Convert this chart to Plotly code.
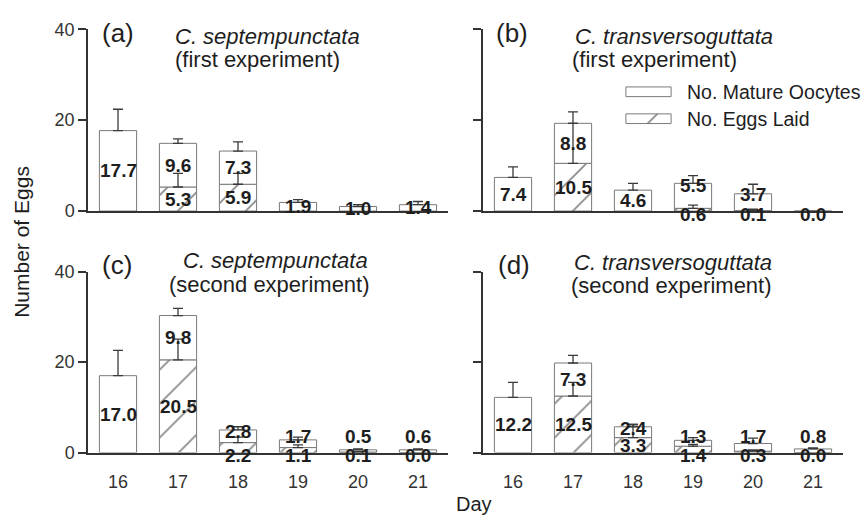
import plotly.graph_objects as go

W, H = 863, 527

days = [16, 17, 18, 19, 20, 21]
day_labels = ["16", "17", "18", "19", "20", "21"]

# (a) C. septempunctata, first experiment
oocytes_a = [17.7, 9.6, 7.3, 1.9, 1.0, 1.4]
laid_a = [None, 5.3, 5.9, None, None, None]
err_total_a = [4.7, 1.0, 2.0, 0.6, 0.4, 0.7]
err_laid_a = [None, 3.0, 2.4, None, None, None]

# (b) C. transversoguttata, first experiment
oocytes_b = [7.4, 8.8, 4.6, 5.5, 3.7, 0.0]
laid_b = [None, 10.5, None, 0.6, 0.1, None]
err_total_b = [2.3, 2.5, 1.5, 1.7, 2.1, None]
err_laid_b = [None, 8.8, None, 0.7, 0.3, None]

# (c) C. septempunctata, second experiment
oocytes_c = [17.0, 9.8, 2.8, 1.7, 0.5, 0.6]
laid_c = [None, 20.5, 2.2, 1.1, 0.1, 0.0]
err_total_c = [5.6, 1.6, 0.7, 0.6, 0.2, 0.2]
err_laid_c = [None, 4.6, 1.2, 0.6, 0.1, None]

# (d) C. transversoguttata, second experiment
oocytes_d = [12.2, 7.3, 2.4, 1.3, 1.7, 0.8]
laid_d = [None, 12.5, 3.3, 1.4, 0.3, 0.0]
err_total_d = [3.3, 1.7, 0.5, 0.6, 1.2, 0.2]
err_laid_d = [None, 3.0, 2.9, 0.4, 0.3, None]

panel_letters = ["(a)", "(b)", "(c)", "(d)"]
species = ["C. septempunctata", "C. transversoguttata", "C. septempunctata", "C. transversoguttata"]
experiments = ["(first experiment)", "(first experiment)", "(second experiment)", "(second experiment)"]
legend_names = ["No. Mature Oocytes", "No. Eggs Laid"]

panels = [
    (oocytes_a, laid_a, err_total_a, err_laid_a),
    (oocytes_b, laid_b, err_total_b, err_laid_b),
    (oocytes_c, laid_c, err_total_c, err_laid_c),
    (oocytes_d, laid_d, err_total_d, err_laid_d),
]

FONT = "Liberation Sans, Arial, sans-serif"
TXT = "#1e1e1e"
AX = "#333333"
BAR_LINE = "#7a7a7a"
ERR = "#3a3a3a"
PATTERN = dict(shape="/", fgcolor="#111111", bgcolor="white", size=24, solidity=0.07)

def px(x):
    return x / W

def py(y):
    return 1 - y / H

# pixel boxes of the four plot areas: (left, right, top, bottom)
boxes = [(88, 448, 20, 209), (483, 843, 20, 209), (88, 448, 272, 460), (483, 843, 272, 460)]

fig = go.Figure()
ann = []

for i, (oo, laid, et, el) in enumerate(panels):
    n = i + 1
    xa = "x" if n == 1 else f"x{n}"
    ya = "y" if n == 1 else f"y{n}"
    base = [v if v is not None else 0 for v in laid]
    total = [o + b for o, b in zip(oo, base)]

    fig.add_trace(go.Bar(
        x=days, y=laid, width=0.62, xaxis=xa, yaxis=ya,
        marker=dict(color="white", pattern=PATTERN, line=dict(color=BAR_LINE, width=1)),
        showlegend=False, hoverinfo="skip"))
    fig.add_trace(go.Bar(
        x=days, y=oo, base=base, width=0.62, xaxis=xa, yaxis=ya,
        marker=dict(color="white", line=dict(color=BAR_LINE, width=1)),
        showlegend=False, hoverinfo="skip"))

    # error bars (upper only)
    fig.add_trace(go.Scatter(
        x=days, y=total, mode="markers", xaxis=xa, yaxis=ya,
        marker=dict(size=1, color="rgba(0,0,0,0)"),
        error_y=dict(type="data", symmetric=False, array=[e if e is not None else 0 for e in et],
                     arrayminus=[0] * 6, color=ERR, thickness=1.3, width=5),
        showlegend=False, hoverinfo="skip", cliponaxis=False))
    idx = [k for k in range(6) if laid[k] is not None and el[k] is not None]
    fig.add_trace(go.Scatter(
        x=[days[k] for k in idx], y=[laid[k] for k in idx], mode="markers", xaxis=xa, yaxis=ya,
        marker=dict(size=1, color="rgba(0,0,0,0)"),
        error_y=dict(type="data", symmetric=False, array=[el[k] for k in idx],
                     arrayminus=[0] * len(idx), color=ERR, thickness=1.3, width=5),
        showlegend=False, hoverinfo="skip", cliponaxis=False))

    # value labels; small segments are anchored at the baseline and nudged below it
    for d, o, l, t in zip(days, oo, laid, total):
        items = []
        if l is None:
            if o > 0:
                items.append((o / 2, 0, o))
            else:
                items.append((0, -3, o))
        else:
            if l >= 3:
                items.append((l / 2, 0, l))
            else:
                items.append((0, -3, l))
            items.append((l + o / 2 if o >= 7 else max(t - 0.4, 3.6), 0, o))
        for yy, shift, v in items:
            ann.append(dict(x=d, y=yy, yshift=shift, xref=xa, yref=ya, text=f"<b>{v:.1f}</b>",
                            showarrow=False, xanchor="center", yanchor="middle",
                            font=dict(family=FONT, size=19, color=TXT)))

    l, r, t, b = boxes[i]
    bottom_row = i >= 2
    left_col = i % 2 == 0
    fig.update_layout(**{
        ("xaxis" if n == 1 else f"xaxis{n}"): dict(
            domain=[px(l), px(r)], range=[15.5, 21.5], anchor=ya,
            tickvals=days, ticktext=day_labels, showticklabels=bottom_row,
            ticks="", ticklabelstandoff=12,
            tickfont=dict(family=FONT, size=18, color=AX),
            showline=True, linecolor=AX, linewidth=1.5, showgrid=False, zeroline=False),
        ("yaxis" if n == 1 else f"yaxis{n}"): dict(
            domain=[py(b), py(t)], range=[0, 40], anchor=xa,
            tickvals=[0, 20, 40], showticklabels=left_col,
            ticks="outside", ticklen=8, tickwidth=1.5, tickcolor=AX,
            tickfont=dict(family=FONT, size=18, color=AX),
            showline=True, linecolor=AX, linewidth=1.5, showgrid=False, zeroline=False),
    })

# legend drawn as a tiny extra subplot so the hatch matches the bars
fig.add_trace(go.Bar(
    x=[1], y=[1], base=[0], orientation="h", width=0.36, xaxis="x5", yaxis="y5",
    marker=dict(color="white", line=dict(color=BAR_LINE, width=1)),
    showlegend=False, hoverinfo="skip"))
fig.add_trace(go.Bar(
    x=[1], y=[0], base=[0], orientation="h", width=0.36, xaxis="x5", yaxis="y5",
    marker=dict(color="white", pattern=PATTERN, line=dict(color=BAR_LINE, width=1)),
    showlegend=False, hoverinfo="skip"))
fig.update_layout(
    xaxis5=dict(domain=[px(625), px(672)], range=[-0.02, 1.02], visible=False, anchor="y5"),
    yaxis5=dict(domain=[py(127), py(71)], range=[-0.5, 1.5], visible=False, anchor="x5"),
)

letter_pos = [(118, 24), (512, 24), (117, 265), (514, 265)]
title_pos = [(267, 28), (674, 28), (275, 260), (673, 262)]
sub_pos = [(257, 51), (654, 51), (269, 285), (671, 286)]
paper_ann = []
for i in range(4):
    paper_ann.append(dict(x=px(letter_pos[i][0]), y=py(letter_pos[i][1]), text=panel_letters[i],
                          font=dict(family=FONT, size=26, color=TXT)))
    paper_ann.append(dict(x=px(title_pos[i][0]), y=py(title_pos[i][1]), text=f"<i>{species[i]}</i>",
                          font=dict(family=FONT, size=22, color=TXT)))
    paper_ann.append(dict(x=px(sub_pos[i][0]), y=py(sub_pos[i][1]), text=experiments[i],
                          font=dict(family=FONT, size=22, color=TXT)))
paper_ann.append(dict(x=px(685), y=py(85), text=legend_names[0], xanchor="left",
                      font=dict(family=FONT, size=19.5, color=TXT)))
paper_ann.append(dict(x=px(685), y=py(113), text=legend_names[1], xanchor="left",
                      font=dict(family=FONT, size=19.5, color=TXT)))
paper_ann.append(dict(x=px(22), y=py(241), text="Number of Eggs", textangle=-90,
                      font=dict(family=FONT, size=21, color=TXT)))
paper_ann.append(dict(x=px(474), y=py(513), text="Day",
                      font=dict(family=FONT, size=20, color=TXT)))
for a in paper_ann:
    a.update(xref="paper", yref="paper", showarrow=False)
    a.setdefault("xanchor", "center")
    a["yanchor"] = "middle"

fig.update_layout(
    width=W, height=H, margin=dict(l=0, r=0, t=0, b=0),
    paper_bgcolor="white", plot_bgcolor="white",
    barmode="overlay", annotations=ann + paper_ann, showlegend=False,
    font=dict(family=FONT, color=TXT),
)

fig.write_html("out.html")
